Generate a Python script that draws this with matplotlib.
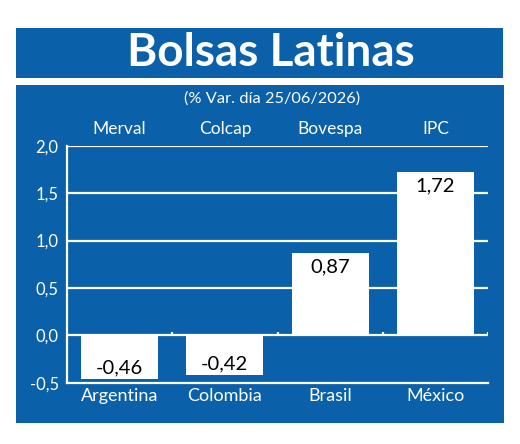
import matplotlib
matplotlib.use("Agg")
import matplotlib.pyplot as plt
from matplotlib.patches import Rectangle

countries = ["Argentina", "Colombia", "Brasil", "México"]
indices = ["Merval", "Colcap", "Bovespa", "IPC"]
values = [-0.46, -0.42, 0.87, 1.72]
value_labels = ["-0,46", "-0,42", "0,87", "1,72"]
yticks = [-0.5, 0.0, 0.5, 1.0, 1.5, 2.0]
ytick_labels = ["-0,5", "0,0", "0,5", "1,0", "1,5", "2,0"]
title = "Bolsas Latinas"
subtitle = "(% Var. día 25/06/2026)"

BLUE = "#0a60a9"
FONT = ["Lato", "DejaVu Sans"]
W, H = 520, 444

fig = plt.figure(figsize=(W / 100, H / 100), dpi=100)
fig.patch.set_facecolor("white")

def px_rect(x0, y0, x1, y1):
    return Rectangle((x0 / W, 1 - y1 / H), (x1 - x0) / W, (y1 - y0) / H,
                     transform=fig.transFigure, facecolor=BLUE, edgecolor="none", zorder=-5)

fig.patches.append(px_rect(16, 28, 503, 78))
fig.patches.append(px_rect(16, 85, 504, 423))

fig.text(271 / W, 1 - 53 / H, title, color="white", fontsize=33, fontweight="bold",
         family=FONT, ha="center", va="center")
fig.text(272 / W, 1 - 99 / H, subtitle, color="white", fontsize=11.8,
         family=FONT, ha="center", va="center")

ax = fig.add_axes([67 / W, 1 - 382.7 / H, 421 / W, 237 / H])
ax.set_zorder(2)
ax.set_facecolor("none")
x = list(range(len(countries)))
ax.bar(x, values, width=0.73, color="white", zorder=3)
ax.set_xlim(-0.5, len(countries) - 0.5)
ax.set_ylim(-0.5, 2.0)

for yv in yticks[1:]:
    ax.axhline(yv, color="white", lw=1.6, zorder=1)
ax.vlines([i + 0.5 for i in x], 0, 0.04, color="white", lw=1.6, zorder=2)

for xi, v, lab in zip(x, values, value_labels):
    if v >= 0:
        ax.annotate(lab, (xi, v), xytext=(0, -4), textcoords="offset points",
                    ha="center", va="top", fontsize=14.5, color="black", family=FONT, zorder=4)
    else:
        ax.annotate(lab, (xi, v), xytext=(0, 2), textcoords="offset points",
                    ha="center", va="bottom", fontsize=14.5, color="black", family=FONT, zorder=4)

for xi, lab in zip(x, indices):
    ax.text(xi, 1.07, lab, transform=ax.get_xaxis_transform(), ha="center", va="center",
            color="white", fontsize=12.5, family=FONT)

ax.set_xticks(x)
ax.set_xticklabels(countries, color="white", fontsize=13, family=FONT)
ax.set_yticks(yticks)
ax.set_yticklabels(ytick_labels, color="white", fontsize=12, family=FONT)
ax.tick_params(axis="x", length=0, pad=3.5)
ax.tick_params(axis="y", length=0, pad=6)
for s in ["top", "right"]:
    ax.spines[s].set_visible(False)
for s in ["left", "bottom"]:
    ax.spines[s].set_color("white")
    ax.spines[s].set_linewidth(1.6)
    ax.spines[s].set_zorder(5)

fig.savefig("out.png", dpi=100, facecolor="white")
